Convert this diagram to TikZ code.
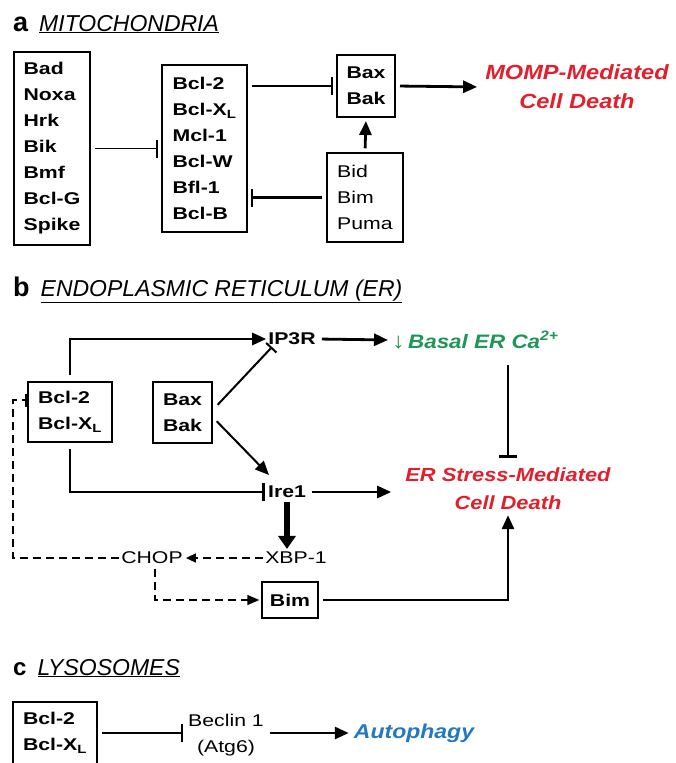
\documentclass[tikz,border=0pt]{standalone}
\usepackage{fontspec}
\setmainfont{Liberation Sans}
\newfontfamily\widefont[FakeStretch=1.25]{Liberation Sans}
\newfontfamily\labelfont[FakeStretch=1.15]{Liberation Sans}
\usepackage{tikz}
\usetikzlibrary{arrows.meta, positioning, calc}
\definecolor{deathred}{RGB}{226,32,45}
\definecolor{cagreen}{RGB}{30,150,85}
\definecolor{autoblue}{RGB}{35,120,190}

\begin{document}
\begin{tikzpicture}[x=1pt,y=-1pt,
  body/.style={font=\widefont\bfseries\fontsize{17}{26}\selectfont},
  plain/.style={font=\widefont\fontsize{17}{26}\selectfont},
  box/.style={draw, line width=2pt, align=left, inner sep=0pt},
  txt/.style={inner sep=2pt, align=center},
  title/.style={anchor=base west, inner sep=0pt},
  act/.style={line width=2.8pt, -{Triangle[length=14pt,width=12pt]}, shorten <=4pt},
  inh/.style={line width=2.8pt, -{Bar[width=18pt,line width=2.4pt]}, shorten <=4pt, shorten >=3pt},
  dashline/.style={line width=1.6pt, dash pattern=on 8pt off 5pt}
]
  \useasboundingbox (0,0) rectangle (675,763);

  % a: mitochondria
  \node[title] (titlea) at (13,31)
    {{\fontsize{27}{27}\selectfont\bfseries a}\hspace{11pt}{\fontsize{23}{23}\selectfont\itshape\underline{MITOCHONDRIA}}};
  \node[box, body, minimum width=76, minimum height=193] (bh3) at (52,148.5)
    {Bad\\Noxa\\Hrk\\Bik\\Bmf\\Bcl-G\\Spike};
  \node[box, body, line width=1.5pt, minimum width=85, minimum height=167] (antia) at (204.5,148.5)
    {Bcl-2\\Bcl-X\textsubscript{L}\\Mcl-1\\Bcl-W\\Bfl-1\\Bcl-B};
  \node[box, body, minimum width=58, minimum height=62] (baxa) at (366,86) {Bax\\Bak};
  \node[box, plain, line width=1.5pt, minimum width=76, minimum height=89] (bida) at (365,197.5)
    {Bid\\Bim\\Puma};
  \node[txt, deathred, font=\labelfont\bfseries\itshape\fontsize{20.5}{29}\selectfont] (momp) at (577,87)
    {MOMP-Mediated\\Cell Death};

  \draw[inh, line width=1.8pt] (bh3.east) -- (antia.west);
  \draw[inh] (antia.east |- baxa.west) -- (baxa.west);
  \draw[act, shorten >=6pt] (baxa.east) -- (momp.west);
  \draw[act, shorten >=3pt] (bida.north) -- (baxa.south);
  \draw[inh, line width=2.2pt] (bida.west) -- (antia.east |- bida.west);

  % b: endoplasmic reticulum
  \node[title] (titleb) at (13,296)
    {{\fontsize{27}{27}\selectfont\bfseries b}\hspace{11pt}{\fontsize{23}{23}\selectfont\itshape\underline{ENDOPLASMIC RETICULUM (ER)}}};
  \node[box, body, minimum width=84, minimum height=60] (bclb) at (70,412) {Bcl-2\\Bcl-X\textsubscript{L}};
  \node[box, body, minimum width=59, minimum height=61] (baxb) at (182.5,412.5) {Bax\\Bak};
  \node[txt, body] (ip3r) at (292,339) {IP3R};
  \node[txt, cagreen, anchor=west, font=\labelfont\bfseries\itshape\fontsize{19.5}{22}\selectfont] (basal) at (390,340)
    {{\mdseries\upshape\fontsize{22}{22}\selectfont ↓}\,Basal ER Ca\textsuperscript{2+}};
  \node[txt, deathred, font=\labelfont\bfseries\itshape\fontsize{19}{28}\selectfont] (erstress) at (508,489)
    {ER Stress-Mediated\\Cell Death};
  \node[txt, body] (ire1) at (287,492) {Ire1};
  \node[txt, plain] (xbp1) at (296,558) {XBP-1};
  \node[txt, body, font=\widefont\fontsize{17}{26}\selectfont] (chop) at (152,558) {CHOP};
  \node[box, body, line width=1.5pt, minimum width=56, minimum height=36] (bim) at (290,600) {Bim};
  \coordinate (ip3rfoot) at (272,347);
  \coordinate (ire1top) at (269,475);
  \coordinate (chopturn) at (13,400);

  \draw[act, shorten <=6pt] (bclb.north) |- (ip3r.west);
  \draw[act, shorten >=2pt] (ip3r.east) -- (basal.west);
  \draw[inh, line width=2pt, -{Bar[width=14pt,line width=2pt]}, shorten <=1pt, shorten >=0pt] ($(baxb.east)+(4,-7)$) -- (ip3rfoot);
  \draw[act, line width=2pt, shorten <=1pt] ($(baxb.east)+(3,8)$) -- (ire1top);
  \draw[inh, shorten <=6pt, shorten >=1pt] (bclb.south) |- (ire1.west);
  \draw[act, shorten >=12pt] (ire1.east) -- (ire1.east -| erstress.west);
  \draw[inh, shorten <=14pt, shorten >=8pt] (basal.south -| erstress.north) -- (erstress.north);
  \draw[line width=6pt, -{Triangle[length=13pt,width=17pt]}, shorten <=2pt, shorten >=1pt] (ire1.south) -- (ire1.south |- xbp1.north);
  \draw[dashline, -{Triangle[length=10pt,width=9pt]}, shorten >=1pt] (xbp1.west) -- (chop.east);
  \draw[dashline, -{Bar[width=13pt,line width=2pt]}] (chop.west) -| (chopturn) -- ($(bclb.west)+(0,-12)$);
  \draw[dashline, -{Triangle[length=12pt,width=10pt]}, shorten <=3pt, shorten >=2pt] ($(chop.south)+(3,0)$) |- (bim.west);
  \draw[act, shorten >=3pt] (bim.east) -| (erstress.south);

  % c: lysosomes
  \node[title] (titlec) at (13,675)
    {{\fontsize{24}{24}\selectfont\bfseries c}\hspace{11pt}{\fontsize{23}{23}\selectfont\itshape\underline{LYSOSOMES}}};
  \node[box, body, minimum width=84, minimum height=62] (bclc) at (55,733) {Bcl-2\\Bcl-X\textsubscript{L}};
  \node[txt, plain] (beclin) at (226,735) {Beclin 1\\(Atg6)};
  \node[txt, autoblue, font=\labelfont\bfseries\itshape\fontsize{20}{24}\selectfont] (autophagy) at (414,733) {Autophagy};

  \draw[inh] (bclc.east) -- (bclc.east -| beclin.west);
  \draw[act, shorten >=3pt] (beclin.east |- bclc.east) -- (autophagy.west |- bclc.east);
\end{tikzpicture}
\end{document}
